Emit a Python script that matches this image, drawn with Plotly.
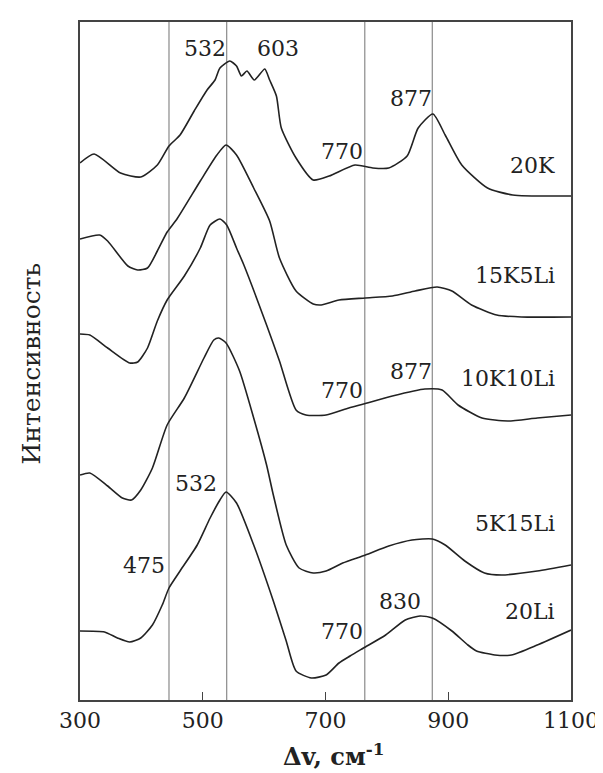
import plotly.graph_objects as go

# Raman shift (cm-1) and intensity (arbitrary units, curves offset)
x_20K = [300, 323, 366, 399, 426, 445, 463, 486, 507, 520, 528, 544, 555, 563, 572, 584, 601, 609, 620, 628, 652, 680, 706, 748, 777, 803, 833, 851, 875, 895, 922, 964, 1005, 1100]
y_20K = [537, 546, 527, 523, 535, 554, 565, 589, 610, 620, 632, 639, 634, 624, 629, 620, 631, 620, 604, 572, 542, 520, 524, 535, 532, 532, 544, 572, 586, 565, 535, 512, 505, 504]

x_15K5Li = [300, 332, 345, 378, 394, 410, 426, 442, 458, 496, 523, 538, 555, 583, 609, 625, 652, 680, 693, 722, 765, 809, 846, 882, 906, 938, 979, 1019, 1100]
y_15K5Li = [461, 465, 459, 434, 430, 432, 449, 468, 481, 519, 545, 555, 545, 512, 479, 442, 409, 396, 395, 400, 402, 404, 409, 413, 409, 395, 385, 383, 383]

x_10K10Li = [300, 316, 345, 381, 394, 410, 426, 442, 470, 496, 512, 528, 539, 555, 567, 604, 625, 652, 668, 701, 738, 762, 809, 862, 890, 916, 955, 997, 1045, 1100]
y_10K10Li = [366, 365, 352, 337, 338, 352, 379, 400, 424, 452, 475, 481, 475, 452, 435, 375, 339, 290, 285, 285, 292, 296, 304, 311, 310, 295, 282, 279, 282, 285]

x_5K15Li = [300, 316, 345, 369, 384, 399, 418, 442, 470, 502, 518, 526, 538, 560, 583, 604, 615, 636, 657, 680, 701, 728, 765, 803, 841, 874, 895, 927, 959, 987, 1045, 1100]
y_5K15Li = [225, 227, 214, 202, 200, 210, 232, 275, 302, 342, 360, 362, 357, 329, 282, 235, 205, 155, 132, 127, 129, 137, 145, 154, 160, 161, 155, 139, 127, 125, 129, 135]

x_20Li = [300, 340, 361, 381, 399, 418, 434, 445, 463, 491, 512, 528, 538, 555, 583, 615, 636, 652, 677, 701, 722, 740, 762, 798, 830, 854, 874, 906, 932, 946, 976, 1003, 1045, 1100]
y_20Li = [69, 68, 62, 58, 62, 75, 95, 112, 129, 155, 182, 200, 208, 197, 155, 99, 59, 29, 22, 25, 37, 44, 52, 65, 80, 84, 82, 69, 55, 49, 45, 45, 55, 70]

ref_lines = [445, 539, 764, 874]

x_ticks = [300, 500, 700, 900, 1100]

# annotations: (text, x, y, anchor)
peak_labels = [
    ("532", 504, 652, "center"),
    ("603", 623, 652, "center"),
    ("770", 727, 549, "center"),
    ("877", 840, 602, "center"),
    ("770", 727, 310, "center"),
    ("877", 840, 329, "center"),
    ("532", 489, 217, "center"),
    ("475", 405, 135, "center"),
    ("830", 822, 99, "center"),
    ("770", 727, 69, "center"),
]
sample_labels = [
    ("20K", 1077, 535),
    ("15K5Li", 1077, 425),
    ("10K10Li", 1077, 322),
    ("5K15Li", 1077, 177),
    ("20Li", 1077, 89),
]

FONT = "DejaVu Serif"

fig = go.Figure()
for xs in ref_lines:
    fig.add_vline(x=xs, line=dict(color="#8a8a8a", width=1.2), layer="below")

for xs, ys in [(x_20K, y_20K), (x_15K5Li, y_15K5Li), (x_10K10Li, y_10K10Li),
               (x_5K15Li, y_5K15Li), (x_20Li, y_20Li)]:
    fig.add_trace(go.Scatter(x=xs, y=ys, mode="lines",
                             line=dict(color="#222222", width=1.6, shape="spline", smoothing=0.6),
                             showlegend=False, hoverinfo="skip"))

annotations = []
for t, xv, yv, anc in peak_labels:
    annotations.append(dict(text=t, x=xv, y=yv, xref="x", yref="y", showarrow=False,
                            xanchor=anc, yanchor="middle",
                            font=dict(family=FONT, size=22, color="#222222")))
for t, xv, yv in sample_labels:
    annotations.append(dict(text=t, x=xv, y=yv, xref="x", yref="y", showarrow=False,
                            xanchor="right", yanchor="middle",
                            font=dict(family=FONT, size=22, color="#222222")))
annotations.append(dict(text="Интенсивность", x=-0.099, y=0.497, xref="paper", yref="paper",
                        showarrow=False, textangle=-90, xanchor="center", yanchor="middle",
                        font=dict(family=FONT, size=25, color="#222222")))
annotations.append(dict(text="<b>Δv, см<sup>-1</sup></b>", x=0.517, y=-0.107, xref="paper", yref="paper",
                        showarrow=False, xanchor="center", yanchor="bottom",
                        font=dict(family=FONT, size=24, color="#222222")))

fig.update_layout(
    width=603, height=773,
    margin=dict(l=72, r=36, t=14, b=81),
    paper_bgcolor="white", plot_bgcolor="white",
    font=dict(family=FONT),
    annotations=annotations,
    xaxis=dict(range=[300, 1100], tickvals=x_ticks, ticktext=[str(v) for v in x_ticks],
               ticks="inside", ticklen=8, tickwidth=1.2, tickcolor="#444444",
               showline=True, linecolor="#444444", linewidth=2, mirror=True,
               showgrid=False, zeroline=False,
               tickfont=dict(family=FONT, size=22, color="#222222")),
    yaxis=dict(range=[0, 678], showticklabels=False, ticks="",
               showline=True, linecolor="#444444", linewidth=2, mirror=True,
               showgrid=False, zeroline=False),
)

fig.write_html("out.html")
